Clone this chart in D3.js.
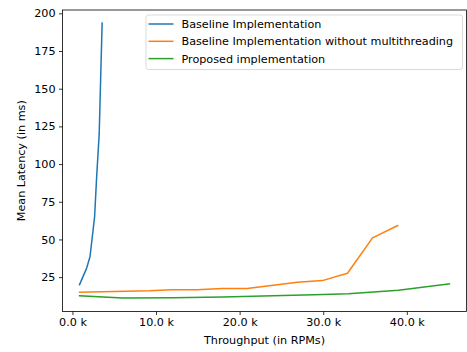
<!DOCTYPE html>
<html><head><meta charset="utf-8">
<script src="https://cdn.jsdelivr.net/npm/d3@7"></script>
<style>body{margin:0;background:#fff}svg{display:block}text{font-family:"DejaVu Sans",sans-serif}</style>
</head><body><svg id="c" width="467" height="352"></svg>
<script>
const seriesNames = ["Baseline Implementation", "Baseline Implementation without multithreading", "Proposed implementation"];
const colors = ["#1f77b4", "#ff7f0e", "#2ca02c"];
const baselineX = [850, 1700, 2100, 2650, 2900, 3200, 3550];
const baselineY = [20, 31, 38.5, 65, 92, 120, 193.5];
const noMtX = [850, 9200, 11900, 14900, 17900, 20900, 26900, 29900, 32900, 35900, 38900];
const noMtY = [15, 15.9, 16.6, 16.6, 17.4, 17.4, 21.6, 22.7, 27.6, 51, 59.2];
const proposedX = [850, 6000, 12000, 18000, 24000, 30000, 33000, 39000, 45100];
const proposedY = [12.7, 11.1, 11.4, 11.9, 12.6, 13.4, 13.9, 16.3, 20.5];
const xTicks = [0, 10000, 20000, 30000, 40000];
const yTicks = [25, 50, 75, 100, 125, 150, 175, 200];

const svg = d3.select("#c");
const L = 62.5, R = 466.5, T = 10, B = 311.5;
const x = d3.scaleLinear().domain([-1190, 47140]).range([L, R]);
const y = d3.scaleLinear().domain([2.2, 202.2]).range([B, T]);

const fs = 11.2;
// axes
const gx = svg.append("g").attr("transform", `translate(0,${B})`)
  .call(d3.axisBottom(x).tickValues(xTicks).tickFormat(d => (d/1000).toFixed(1) + " k").tickSize(3.5).tickPadding(3.5));
const gy = svg.append("g").attr("transform", `translate(${L},0)`)
  .call(d3.axisLeft(y).tickValues(yTicks).tickSize(3.5).tickPadding(3.5));
[gx, gy].forEach(g => {
  g.select(".domain").remove();
  g.selectAll("line").attr("stroke", "#000").attr("stroke-width", 0.8);
  g.selectAll("text").attr("font-size", fs).attr("fill", "#000").style("font-family", "DejaVu Sans");
});

// data lines
const data = [[baselineX, baselineY], [noMtX, noMtY], [proposedX, proposedY]];
const line = d3.line().x(d => x(d[0])).y(d => y(d[1]));
const clip = svg.append("clipPath").attr("id", "clp").append("rect").attr("x", L).attr("y", T).attr("width", R - L).attr("height", B - T);
data.forEach((s, i) => {
  const pts = s[0].map((v, j) => [v, s[1][j]]);
  svg.append("path").attr("d", line(pts)).attr("fill", "none").attr("stroke", colors[i])
    .attr("stroke-width", 1.5).attr("stroke-linejoin", "round").attr("stroke-linecap", "square").attr("clip-path", "url(#clp)");
});

// spines
svg.append("rect").attr("x", L).attr("y", T).attr("width", R - L).attr("height", B - T)
  .attr("fill", "none").attr("stroke", "#000").attr("stroke-width", 0.8);

// axis titles
svg.append("text").attr("x", (L + R) / 2).attr("y", 344).attr("text-anchor", "middle").attr("font-size", fs).text("Throughput (in RPMs)");
svg.append("text").attr("transform", `translate(24.8,${(T + B) / 2}) rotate(-90)`).attr("text-anchor", "middle").attr("font-size", fs).text("Mean Latency (in ms)");

// legend
const lg = svg.append("g");
lg.append("rect").attr("x", 146).attr("y", 15).attr("width", 316.5).attr("height", 54.5).attr("rx", 2.5)
  .attr("fill", "#fff").attr("fill-opacity", 0.8).attr("stroke", "#d0d0d0").attr("stroke-width", 0.8);
seriesNames.forEach((n, i) => {
  const yy = 24 + i * 17.3;
  lg.append("line").attr("x1", 148.5).attr("x2", 173.5).attr("y1", yy).attr("y2", yy).attr("stroke", colors[i]).attr("stroke-width", 1.5);
  lg.append("text").attr("x", 181.5).attr("y", yy + 4).attr("font-size", fs).text(n);
});
</script></body></html>
